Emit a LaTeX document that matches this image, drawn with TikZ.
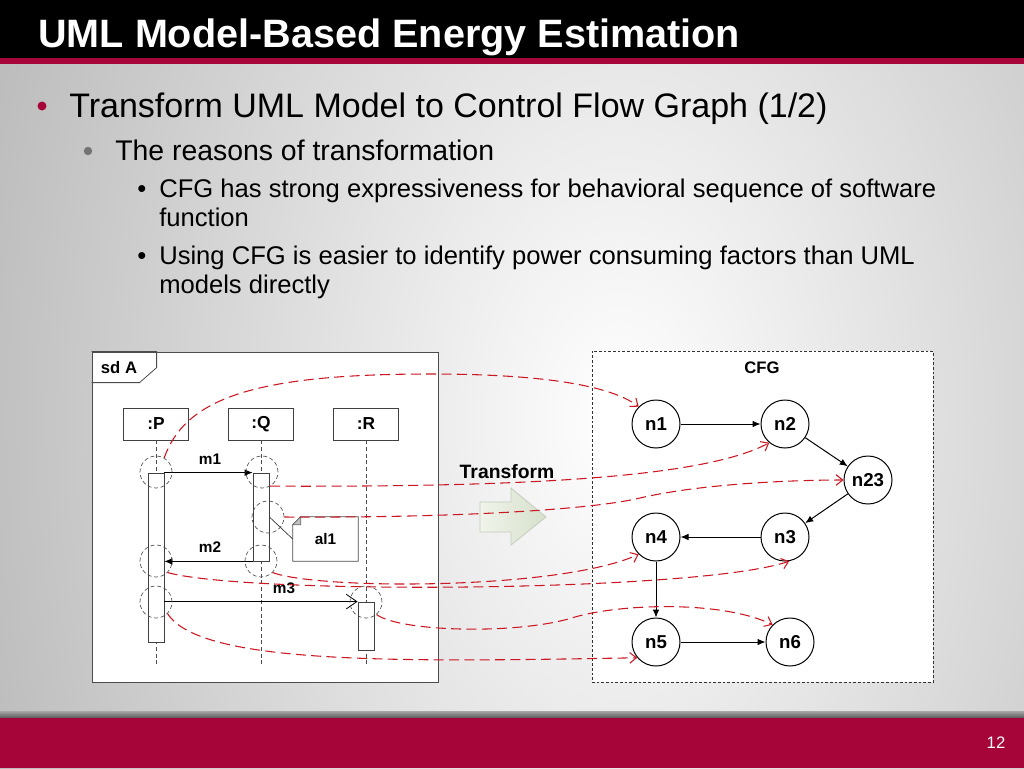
\documentclass[tikz,border=0pt]{standalone}
\usepackage{fontspec}
\setmainfont{Liberation Sans}
\usetikzlibrary{positioning, arrows.meta, calc}

\definecolor{slidered}{HTML}{A6053A}
\definecolor{tracered}{HTML}{CC1622}
\definecolor{bggray}{HTML}{8C8C8C}
\definecolor{arrowlight}{HTML}{F0F4EA}
\definecolor{arrowdark}{HTML}{D6E0CC}
\definecolor{arrowedge}{HTML}{C4CCBC}

\begin{document}
\begin{tikzpicture}[x=0.75pt, y=-0.75pt,
  sdframe/.style={draw=black!70, fill=white, line width=0.6pt},
  cfgframe/.style={draw=black!80, fill=white, dash pattern=on 2pt off 1.5pt, line width=0.6pt},
  lifebox/.style={draw=black!75, fill=white, minimum width=48.75pt, minimum height=24pt,
                  inner sep=0pt, line width=0.6pt, font=\fontsize{13}{15}\selectfont\bfseries},
  life/.style={dash pattern=on 3pt off 2pt, line width=0.5pt, black!70},
  bar/.style={draw=black!75, fill=white, minimum width=12pt, inner sep=0pt, line width=0.6pt},
  spot/.style={circle, draw=black!70, dash pattern=on 3pt off 2pt, minimum size=24pt,
               inner sep=0pt, line width=0.5pt},
  msg/.style={line width=0.6pt, -{Latex[length=6pt, width=5pt]}},
  asyncmsg/.style={line width=0.6pt, -{Straight Barb[length=8pt, width=11pt]}},
  msglab/.style={font=\fontsize{11.5}{13}\selectfont\bfseries, inner sep=0pt},
  tag/.style={font=\fontsize{12.5}{14}\selectfont\bfseries, inner sep=0pt},
  cfgnode/.style={circle, draw, fill=white, minimum size=36pt, inner sep=0pt,
                  line width=0.75pt, font=\fontsize{14}{16}\selectfont\bfseries},
  flow/.style={line width=0.75pt, -{Latex[length=6pt, width=5pt]}},
  trace/.style={tracered, dash pattern=on 7.5pt off 4pt, line width=0.8pt,
                -{Straight Barb[length=5pt, width=8pt]}},
  bodytext/.style={anchor=base west, inner sep=0pt}
]
\useasboundingbox (0,0) rectangle (1024,768);
\begin{scope}
  \clip (0,0) rectangle (1024,768);
  \fill[bggray] (0,0) rectangle (1024,768);
  \shade[inner color=white, outer color=bggray] (620,420) ellipse [x radius=860pt, y radius=1300pt];
\end{scope}
\fill[black] (0,0) rectangle (1024,58);
\fill[slidered] (0,58) rectangle (1024,64);
\node[bodytext, text=white, font=\fontsize{29.7}{33}\selectfont\bfseries] (title) at (38,47)
  {UML Model-Based Energy Estimation};
\shade[top color=black!35, bottom color=black!65] (0,711) rectangle (1024,718);
\fill[slidered] (0,718) rectangle (1024,768);
\node[text=white, font=\fontsize{12.5}{14}\selectfont] (page) at (996,743) {12};

\fill[slidered] (42,106) circle [radius=4.5];
\node[bodytext, font=\fontsize{25.5}{30}\selectfont] (l1) at (69,117)
  {Transform UML Model to Control Flow Graph (1/2)};
\fill[black!55] (88,151) circle [radius=4.2];
\node[bodytext, font=\fontsize{21.3}{26}\selectfont] (l2) at (115,160)
  {The reasons of transformation};
\foreach \t/\y/\b in {CFG has strong expressiveness for behavioral sequence of software/197/1,
                      function/226/0,
                      Using CFG is easier to identify power consuming factors than UML/264/1,
                      models directly/293/0}
{
  \ifnum\b=1 \node[bodytext, font=\fontsize{19.2}{23}\selectfont] at (137,\y) {•}; \fi
  \node[bodytext, font=\fontsize{19.2}{23}\selectfont] at (159,\y) {\t};
}

\node[sdframe, minimum width=259.5pt, minimum height=247.5pt] (sdA) at (265,517) {};
\draw[sdframe, fill=none] (sdA.north west) -| ++(65,16) -- ++(-17,15) -- ++(-48,0);
\node[tag] (sdtag) at (119,368) {sd A};
\node[cfgframe, minimum width=255.75pt, minimum height=248.25pt] (cfg) at (762.5,516.5) {};
\node[tag] (cfgtag) at (762,368) {CFG};

\foreach \n/\x in {P/156, Q/261, R/366}
{
  \node[lifebox] (\n) at (\x,424) {:\n};
  \coordinate (\n end) at (\x,667);
  \draw[life] (\n.south) -- (\n end);
}
\node[bar, minimum height=126.75pt] (actP) at (156,557.5) {};
\node[bar, minimum height=66pt] (actQ) at (261,517) {};
\node[bar, minimum height=36pt] (actR) at (366,626) {};

\draw[msg] (actP.north east) -- (actQ.north west);
\node[msglab] (m1) at (210,459) {m1};
\draw[msg] (actQ.south west) -- (actQ.south west -| actP.east);
\node[msglab] (m2) at (210,547) {m2};
\draw[asyncmsg] (actP.east |- actR.north) -- (actR.north west);
\node[msglab] (m3) at (284,588) {m3};

\node[msglab, minimum width=48.75pt, minimum height=33pt] (al1) at (325.5,539) {al1};
\draw[black!70, line width=0.6pt] (al1.north west) ++(0,8) -- ++(8,-8) -- (al1.north east)
  -- (al1.south east) -- (al1.south west) -- cycle;
\filldraw[fill=black!25, draw=black!60, line width=0.4pt] (al1.north west) ++(0,8) -- ++(8,0) -- ++(0,-8) -- cycle;
\draw[black!80, line width=0.5pt] (actQ.east |- 0,517) -- (al1.west);

\foreach \s/\x/\y in {sP1/156/472, sQ1/262/472, sQ2/268/517, sQ3/261/561,
                      sP2/156/561, sP3/156/602, sR/366/602}
  \node[spot] (\s) at (\x,\y) {};

\node[font=\fontsize{14.5}{16}\selectfont\bfseries] (transform) at (507,472) {Transform};
\shadedraw[left color=arrowlight, right color=arrowdark, draw=arrowedge, line width=0.6pt]
  (480,502) -- (511,502) -- (511,488) -- (546,517) -- (511,545) -- (511,532) -- (480,532) -- cycle;

\foreach \n/\x/\y in {n1/656/424, n2/785/424, n23/868/480, n3/785/537,
                      n4/656/537, n5/656/642, n6/790/642}
  \node[cfgnode] (\n) at (\x,\y) {\n};
\foreach \a/\b in {n1/n2, n2/n23, n23/n3, n3/n4, n4/n5, n5/n6}
  \draw[flow] (\a) -- (\b);

\draw[trace] (sP1.60) .. controls (185,400) and (250,374) .. (430,374)
  .. controls (540,374) and (610,385) .. (n1.135);
\draw[trace] (sQ1.-60) .. controls (500,487) and (700,480) .. (n2.-130);
\draw[trace] (sQ2.east) .. controls (450,518) and (590,510) .. (640,498)
  .. controls (700,484) and (790,480) .. (n23.west);
\draw[trace] (sQ3.-45) .. controls (320,590) and (560,590) .. (n4.-135);
\draw[trace] (sP2.-45) .. controls (250,595) and (700,592) .. (n3.-80);
\draw[trace] (sR.-50) .. controls (400,632) and (520,635) .. (575,617)
  .. controls (620,604) and (720,600) .. (n6.135);
\draw[trace] (sP3.-45) .. controls (200,665) and (400,662) .. (n5.-140);
\end{tikzpicture}
\end{document}
